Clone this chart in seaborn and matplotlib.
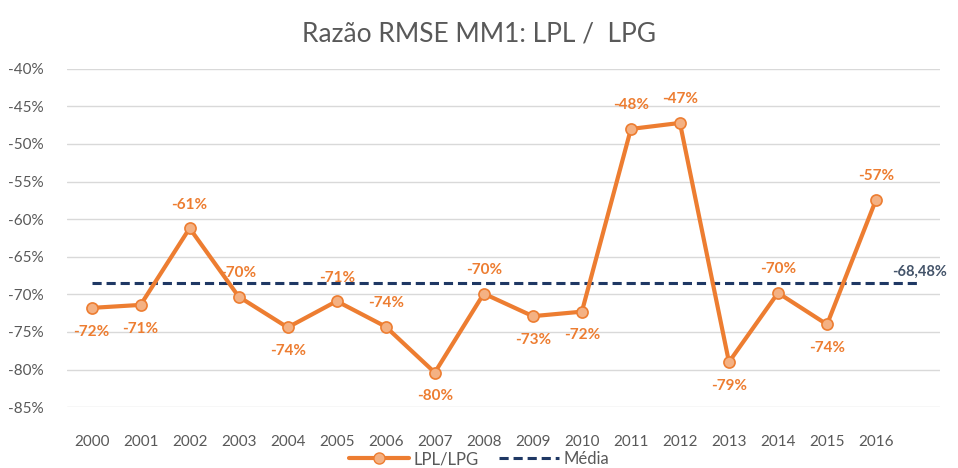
import pandas as pd
import seaborn as sns
import matplotlib.pyplot as plt
from matplotlib.lines import Line2D

years = list(range(2000, 2017))
ratio = [-71.8, -71.4, -61.2, -70.3, -74.4, -70.9, -74.3, -80.4, -69.9,
         -72.9, -72.3, -48.0, -47.2, -79.0, -69.8, -74.0, -57.4]
label_pos = ["below", "below", "above", "above", "below", "above", "above", "below", "above",
             "below", "below", "above", "above", "below", "above", "below", "above"]
media = -68.48
yticks = list(range(-40, -86, -5))

df = pd.DataFrame({"ano": years, "razao": ratio})

sns.set_style("white")
plt.rcParams["font.family"] = ["Lato", "DejaVu Sans"]

orange = "#ED7D31"
navy = "#1F3864"

fig = plt.figure(figsize=(9.58, 4.68), dpi=100)
ax = fig.add_axes([0.070, 0.130, 0.911, 0.723])

sns.lineplot(data=df, x="ano", y="razao", ax=ax, color=orange, linewidth=3,
             marker="o", markersize=8, markerfacecolor="#F4B183",
             markeredgecolor=orange, markeredgewidth=1.2, zorder=3)

# linha da média
ax.hlines(media, years[0], years[-1] + 0.85, colors=navy, linestyles=(0, (3, 1.6)),
          linewidth=2.2, zorder=2)
ax.text(years[-1] + 0.32, media + 0.6, f"{media:.2f}%".replace(".", ","),
        color="#44546A", fontsize=10.5, fontweight="bold", va="bottom", ha="left")

# rótulos dos pontos
for x, y, p in zip(years, ratio, label_pos):
    off = 17 if p == "above" else -17
    ax.annotate(f"{y:.0f}%", (x, y), xytext=(0, off), textcoords="offset points",
                ha="center", va="center", color=orange, fontsize=11, fontweight="bold")

ax.set_ylim(-85, -40)
ax.set_xlim(1999.5, 2017.3)
ax.set_yticks(yticks)
ax.set_yticklabels([f"{t}%" for t in yticks])
ax.set_xticks(years)
ax.set_xticklabels([str(y) for y in years])
ax.grid(axis="y", color="#D9D9D9", linewidth=1)
ax.grid(axis="x", visible=False)
ax.tick_params(axis="y", length=0, labelsize=11, labelcolor="#595959", pad=17)
ax.tick_params(axis="x", length=0, labelsize=11, labelcolor="#595959", pad=20)
ax.set_xlabel("")
ax.set_ylabel("")
for s in ax.spines.values():
    s.set_visible(False)

fig.suptitle("Razão RMSE MM1: LPL /  LPG", y=0.955, fontsize=19, color="#595959")

handles = [
    Line2D([], [], color=orange, linewidth=3, marker="o", markersize=8,
           markerfacecolor="#F4B183", markeredgecolor=orange),
    Line2D([], [], color=navy, linewidth=2.2, linestyle=(0, (3, 1.6))),
]
fig.legend(handles, ["LPL/LPG", "Média"], loc="lower center", bbox_to_anchor=(0.5, -0.03),
           ncol=2, frameon=False, fontsize=12, labelcolor="#595959",
           handlelength=3.6, columnspacing=1.2, handletextpad=0.3)

plt.savefig("out.png", dpi=100)
